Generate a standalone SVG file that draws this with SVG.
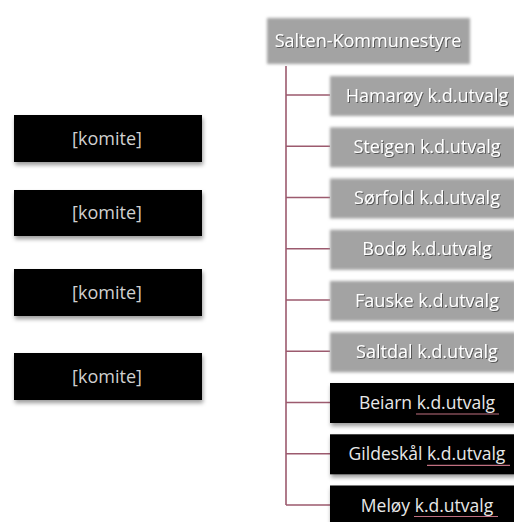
<svg xmlns="http://www.w3.org/2000/svg" width="514" height="522" viewBox="0 0 514 522">
<defs>
<filter id="soft" x="-10%" y="-20%" width="120%" height="140%"><feGaussianBlur stdDeviation="1.5"/></filter>
<filter id="shadow" x="-10%" y="-20%" width="120%" height="150%"><feDropShadow dx="1" dy="3" stdDeviation="2" flood-color="#000" flood-opacity="0.4"/></filter>
<filter id="tshadow" x="-10%" y="-30%" width="120%" height="160%"><feDropShadow dx="1" dy="1" stdDeviation="0.6" flood-color="#444" flood-opacity="0.8"/></filter>
</defs>
<style>
.gray{fill:#a3a3a3;filter:url(#soft)}
.black{fill:#000;filter:url(#shadow)}
.gt{font-family:"Open Sans","Liberation Sans",sans-serif;font-size:18px;fill:#fff;text-anchor:middle;filter:url(#tshadow)}
.bt{font-family:"Open Sans","Liberation Sans",sans-serif;font-size:17.5px;fill:#e8e8e8;text-anchor:middle}
.kt{font-family:"Open Sans","Liberation Sans",sans-serif;font-size:18px;fill:#d0d0d0;text-anchor:middle}
.con{stroke:#9c5a6e;stroke-width:1.6;fill:none}
.ul{stroke:#c07080;stroke-width:1.2}
</style>
<rect width="514" height="522" fill="#fff"/>
<g id="connectors">
<path class="con" d="M286 66V505M286 95H330M286 146.3H330M286 197.5H330M286 248.8H330M286 300H330M286 351.3H330M286 402.5H330M286 453.8H330M286 505H330"/>
</g>
<g id="salten"><rect class="gray" x="267" y="18" width="203" height="46"/><text class="gt" x="368" y="47">Salten-Kommunestyre</text></g>
<g id="hamaroy"><rect class="gray" x="330" y="76" width="186" height="40"/><text class="gt" x="427" y="101.5">Hamarøy k.d.utvalg</text></g>
<g id="steigen"><rect class="gray" x="330" y="127.3" width="186" height="40"/><text class="gt" x="427" y="152.8">Steigen k.d.utvalg</text></g>
<g id="sorfold"><rect class="gray" x="330" y="178.5" width="186" height="40"/><text class="gt" x="427" y="204">Sørfold k.d.utvalg</text></g>
<g id="bodo"><rect class="gray" x="330" y="229.8" width="186" height="40"/><text class="gt" x="427" y="255.3">Bodø k.d.utvalg</text></g>
<g id="fauske"><rect class="gray" x="330" y="281" width="186" height="40"/><text class="gt" x="427" y="306.5">Fauske k.d.utvalg</text></g>
<g id="saltdal"><rect class="gray" x="330" y="332.3" width="186" height="40"/><text class="gt" x="427" y="357.8">Saltdal k.d.utvalg</text></g>
<g id="beiarn"><rect class="black" x="330" y="383" width="186" height="40"/><text class="bt" x="427" y="409">Beiarn k.d.utvalg</text><line class="ul" x1="416" y1="414" x2="499" y2="414"/></g>
<g id="gildeskal"><rect class="black" x="330" y="434.3" width="186" height="40"/><text class="bt" x="427" y="460.3">Gildeskål k.d.utvalg</text><line class="ul" x1="427" y1="465.3" x2="510" y2="465.3"/></g>
<g id="meloy"><rect class="black" x="330" y="485.5" width="186" height="40"/><text class="bt" x="427" y="511.5">Meløy k.d.utvalg</text><line class="ul" x1="414" y1="516.5" x2="498" y2="516.5"/></g>
<g id="komite1"><rect class="black" x="14" y="115" width="188" height="47"/><text class="kt" x="107" y="144.5">[komite]</text></g>
<g id="komite2"><rect class="black" x="14" y="190" width="188" height="46"/><text class="kt" x="107" y="219">[komite]</text></g>
<g id="komite3"><rect class="black" x="14" y="269" width="188" height="47"/><text class="kt" x="107" y="298.5">[komite]</text></g>
<g id="komite4"><rect class="black" x="14" y="353" width="188" height="47"/><text class="kt" x="107" y="382.5">[komite]</text></g>
</svg>
